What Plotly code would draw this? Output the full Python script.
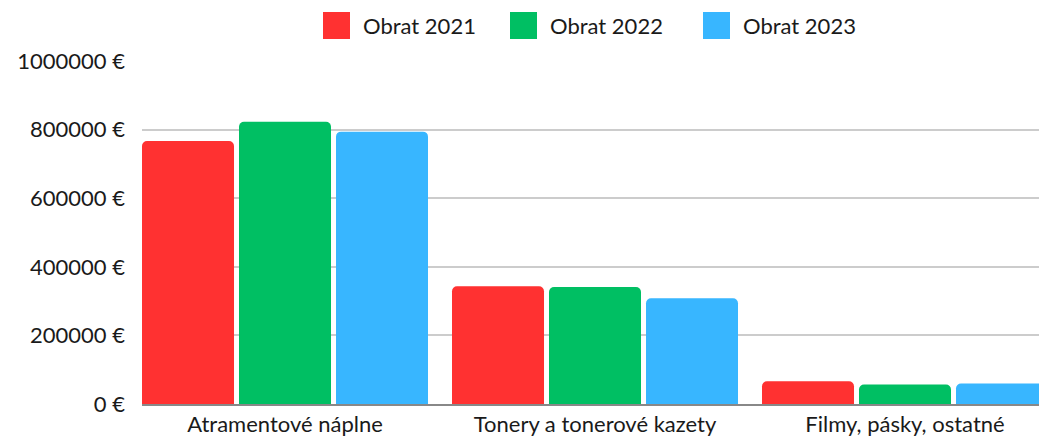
import plotly.graph_objects as go

categories = ["Atramentové náplne", "Tonery a tonerové kazety", "Filmy, pásky, ostatné"]
series_names = ["Obrat 2021", "Obrat 2022", "Obrat 2023"]
obrat_2021 = [767000, 343000, 66000]
obrat_2022 = [823000, 341000, 57000]
obrat_2023 = [794000, 308000, 60000]
series_values = [obrat_2021, obrat_2022, obrat_2023]
colors = ["#FF3131", "#00BF63", "#38B6FF"]
tick_values = [0, 200000, 400000, 600000, 800000, 1000000]
tick_labels = ["0 €", "200000 €", "400000 €", "600000 €", "800000 €", "1000000 €"]

W, H = 1039, 437
ML, MR, MT, MB = 142, 0, 61, 33
PW, PH = W - ML - MR, H - MT - MB
FONT = "Lato"
FS = 22
TXT = "#1a1a1a"

fig = go.Figure()
for name, vals, col in zip(series_names, series_values, colors):
    fig.add_trace(go.Bar(x=categories, y=vals, name=name, marker_color=col,
                         marker_line_width=0, showlegend=False))

def px_x(p):
    return (p - ML) / PW

def px_y(p):
    return (H - MB - p) / PH

# custom legend (large square swatches)
legend_x = [323, 510, 703]
shapes, annotations = [], []
for x0, name, col in zip(legend_x, series_names, colors):
    shapes.append(dict(type="rect", xref="paper", yref="paper",
                       x0=px_x(x0), x1=px_x(x0 + 27), y0=px_y(39), y1=px_y(12),
                       fillcolor=col, line_width=0))
    annotations.append(dict(text=name, xref="paper", yref="paper",
                            x=px_x(x0 + 38), y=px_y(25.5), xanchor="left", yanchor="middle",
                            showarrow=False, font=dict(family=FONT, size=FS, color=TXT)))

# category axis: 310 px per category, first bar flush with left edge
cat_px = 310
x_start = -0.4613
x_end = x_start + PW / cat_px

fig.update_layout(
    width=W, height=H,
    margin=dict(l=ML, r=MR, t=MT, b=MB, pad=0, autoexpand=False),
    paper_bgcolor="white", plot_bgcolor="white",
    barmode="group", bargap=0.0613, bargroupgap=0.0515, barcornerradius=5,
    font=dict(family=FONT, size=FS, color=TXT),
    shapes=shapes, annotations=annotations,
    xaxis=dict(range=[x_start, x_end], showgrid=False, showline=True,
               linecolor="#888888", linewidth=1.5, ticks="", ticklabelstandoff=0,
               tickfont=dict(family=FONT, size=FS, color=TXT), fixedrange=True),
    yaxis=dict(range=[0, 1000000], tickmode="array", tickvals=tick_values, ticktext=tick_labels,
               showgrid=True, gridcolor="#cccccc", gridwidth=1.5, zeroline=False,
               showline=False, ticks="", ticklabelstandoff=16,
               tickfont=dict(family=FONT, size=FS, color=TXT), fixedrange=True),
)

fig.write_html("out.html", config={"displayModeBar": False},
               post_script="document.body.style.margin='0';document.body.style.overflow='hidden';")
